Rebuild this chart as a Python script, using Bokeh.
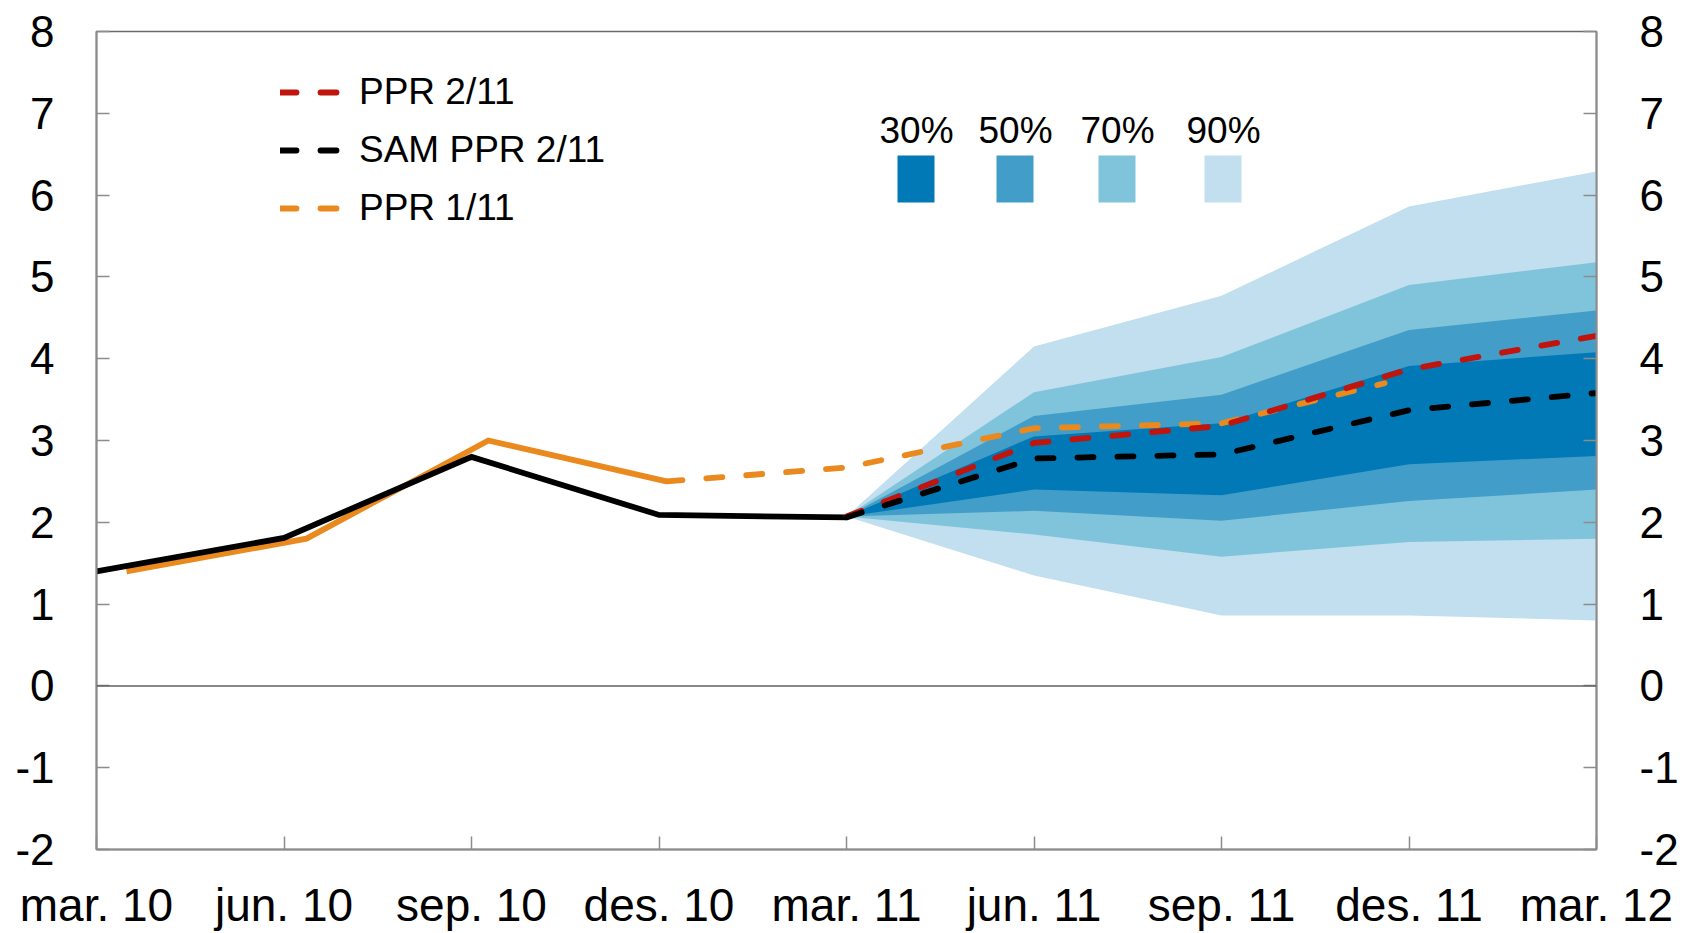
from bokeh.plotting import figure
from bokeh.models import (Range1d, LinearAxis, FixedTicker, Span, Legend, LegendItem,
                          Label, BoxAnnotation)
from bokeh.embed import file_html
from bokeh.resources import INLINE

# ---------------- data ----------------
tick_labels = ["mar. 10", "jun. 10", "sep. 10", "des. 10", "mar. 11",
               "jun. 11", "sep. 11", "des. 11", "mar. 12"]
quarters = list(range(9))

# history (SAM PPR 2/11, solid black)
hist_x = [0, 1, 2, 3, 4]
hist_y = [1.40, 1.81, 2.80, 2.09, 2.06]

# PPR 1/11 (orange), solid part and dashed projection
ppr1_solid_x = [0.16, 1.12, 2.09, 3.04]
ppr1_solid_y = [1.40, 1.80, 3.00, 2.50]
ppr1_proj_x = [3.04, 4.0, 5.0, 6.0, 6.87]
ppr1_proj_y = [2.50, 2.67, 3.15, 3.21, 3.70]

# projections from mar. 11
proj_x = [4, 5, 6, 7, 8]
ppr2_y = [2.07, 2.97, 3.18, 3.87, 4.28]
sam_y = [2.06, 2.78, 2.83, 3.37, 3.58]

# fan bands
u90 = [2.07, 4.15, 4.77, 5.86, 6.29]
u70 = [2.07, 3.59, 4.02, 4.90, 5.18]
u50 = [2.07, 3.30, 3.56, 4.35, 4.59]
u30 = [2.07, 3.05, 3.21, 3.91, 4.08]
l30 = [2.07, 2.40, 2.33, 2.71, 2.81]
l50 = [2.07, 2.14, 2.02, 2.26, 2.40]
l70 = [2.07, 1.85, 1.58, 1.76, 1.80]
l90 = [2.07, 1.35, 0.86, 0.86, 0.80]

band_labels = ["30%", "50%", "70%", "90%"]
band_colors = ["#0079B6", "#429DC9", "#80C4DB", "#C1DFEE"]

y_ticks = list(range(-2, 9))
y_tick_labels = ["-2", "-1", "0", "1", "2", "3", "4", "5", "6", "7", "8"]

FONT = "Liberation Sans"
RED = "#C0140C"
ORANGE = "#E9891E"

p = figure(width=1683, height=933, output_backend="svg", toolbar_location=None,
           x_range=Range1d(0, 8), y_range=Range1d(-2, 8),
           min_border_left=96, min_border_right=87, min_border_top=31, min_border_bottom=83)
p.xgrid.visible = False
p.ygrid.visible = False
p.outline_line_color = "#6a6a6a"
p.outline_line_width = 1.5
p.background_fill_color = "white"
p.border_fill_color = "white"

# fan
for lo, hi, col in [(l90, u90, band_colors[3]), (l70, u70, band_colors[2]),
                    (l50, u50, band_colors[1]), (l30, u30, band_colors[0])]:
    p.varea(x=proj_x, y1=lo, y2=hi, fill_color=col, fill_alpha=1.0)

p.add_layout(Span(location=0, dimension="width", line_color="#606060", line_width=1.5))

LW = 5.8
DASH = "16 24"
p.line(ppr1_solid_x, ppr1_solid_y, line_color=ORANGE, line_width=LW, line_join="miter")
r_ppr1 = p.line(ppr1_proj_x, ppr1_proj_y, line_color=ORANGE, line_width=LW,
                line_dash=DASH, line_cap="round")
p.line(hist_x, hist_y, line_color="black", line_width=LW, line_join="miter")
r_ppr2 = p.line(proj_x, ppr2_y, line_color=RED, line_width=LW, line_dash=DASH, line_cap="round")
r_sam = p.line(proj_x, sam_y, line_color="black", line_width=LW, line_dash=DASH, line_cap="round")

# axes
p.xaxis.ticker = FixedTicker(ticks=quarters)
p.xaxis.major_label_overrides = {i: t for i, t in zip(quarters, tick_labels)}
p.yaxis.ticker = FixedTicker(ticks=y_ticks)

right = LinearAxis(ticker=FixedTicker(ticks=y_ticks))
p.add_layout(right, "right")

for ax in [p.yaxis[0], right]:
    ax.major_label_overrides = {v: t for v, t in zip(y_ticks, y_tick_labels)}

for ax in [p.xaxis[0], p.yaxis[0], right]:
    ax.axis_line_color = "#8c8c8c"
    ax.axis_line_width = 2
    ax.major_tick_line_color = "#8c8c8c"
    ax.major_tick_line_width = 1.5
    ax.major_tick_in = 13
    ax.major_tick_out = 0
    ax.minor_tick_line_color = None
    ax.major_label_text_font = FONT
    ax.major_label_text_color = "black"

p.xaxis.major_label_text_font_size = "46px"
p.xaxis.major_label_standoff = 29
p.yaxis[0].major_label_text_font_size = "44px"
p.yaxis[0].major_label_standoff = 42
right.major_label_text_font_size = "44px"
right.major_label_standoff = 43

# legend (lines)
legend = Legend(items=[LegendItem(label="PPR 2/11", renderers=[r_ppr2]),
                       LegendItem(label="SAM PPR 2/11", renderers=[r_sam]),
                       LegendItem(label="PPR 1/11", renderers=[r_ppr1])],
                location=(184, 619), padding=0, margin=0, spacing=14,
                glyph_height=44, label_height=44, glyph_width=62, label_standoff=17,
                border_line_color=None, background_fill_alpha=0,
                label_text_font=FONT, label_text_font_size="37px",
                label_text_color="black")
p.add_layout(legend)

# legend (fan bands)
sq_left = [801, 900, 1002, 1108]
for lbl, col, left in zip(band_labels, band_colors, sq_left):
    p.add_layout(BoxAnnotation(left=left, right=left + 37, bottom=647, top=694,
                               left_units="screen", right_units="screen",
                               bottom_units="screen", top_units="screen",
                               fill_color=col, fill_alpha=1.0, line_color=None))
    p.add_layout(Label(x=left + 19, y=719, x_units="screen", y_units="screen", text=lbl,
                       text_align="center", text_baseline="middle",
                       text_font=FONT, text_font_size="37px", text_color="black"))

open("out.html", "w").write(file_html(p, INLINE))
